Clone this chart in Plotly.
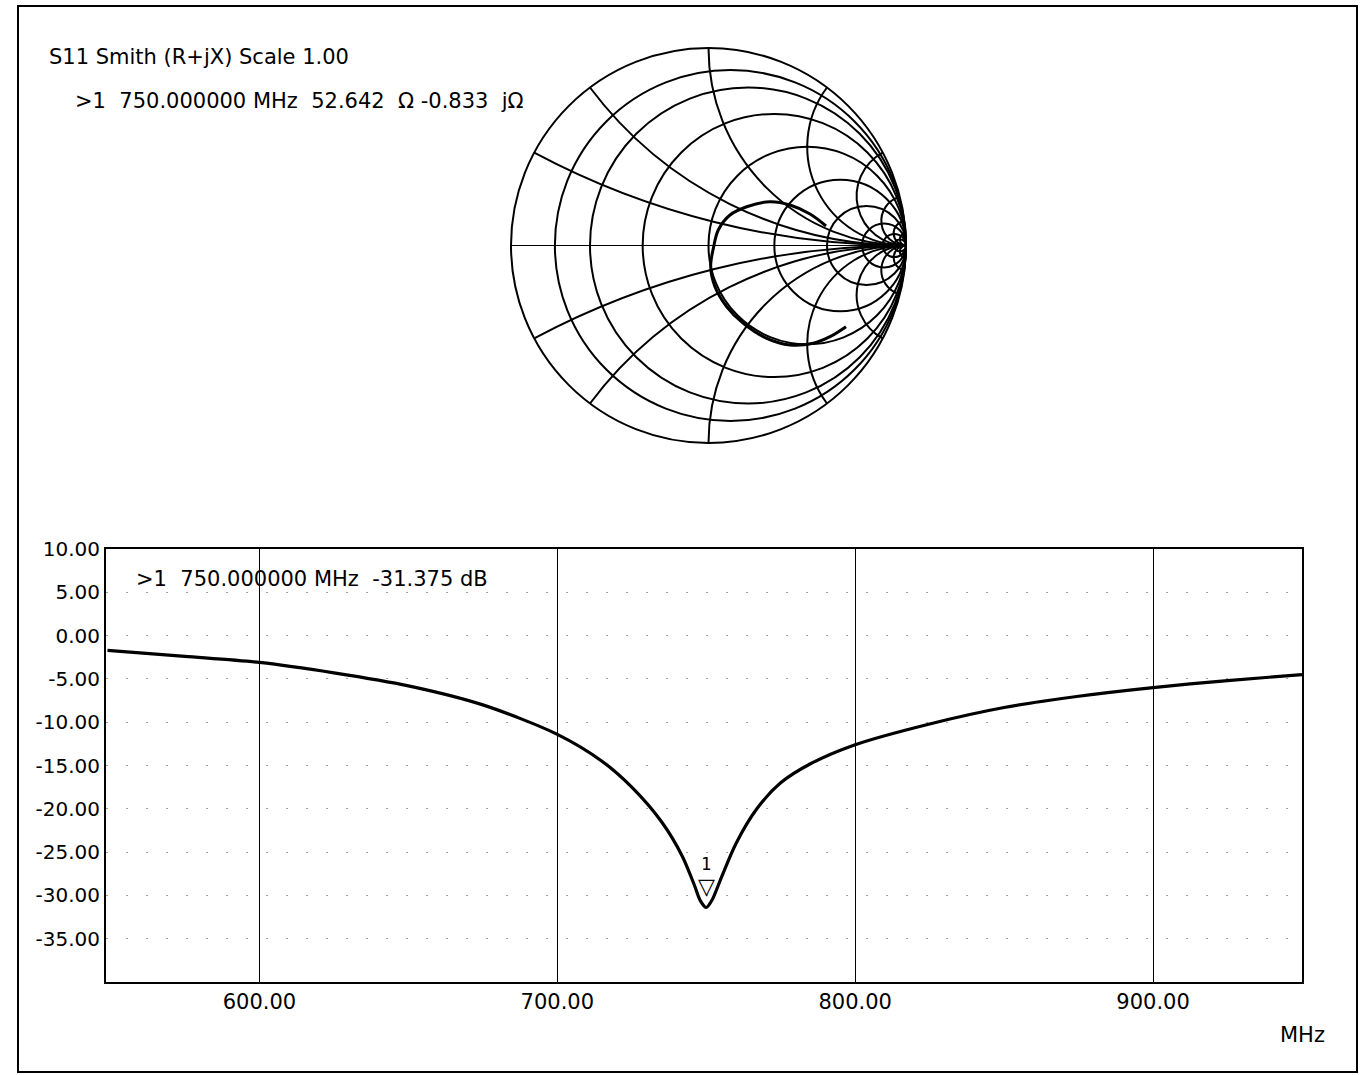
import plotly.graph_objects as go

W, H = 1367, 1075

# ---------------- data ----------------
# S11 return loss (log magnitude) vs frequency
freq_mhz = [549, 575, 600, 625, 650, 675, 700, 715, 725, 735, 742, 746, 748,
            750, 752, 755, 760, 767, 775, 785, 800, 825, 850, 875, 900, 925, 950]
s11_db = [-1.7, -2.4, -3.1, -4.3, -5.8, -8.0, -11.4, -14.5, -17.5, -21.5, -25.5,
          -28.8, -30.6, -31.4, -30.5, -28.0, -24.0, -20.0, -17.0, -14.8, -12.6,
          -10.2, -8.3, -7.0, -6.0, -5.2, -4.5]

# S11 on the Smith chart: normalised impedance (R + jX) / 50 ohm
smith_r = [1.325, 1.130, 1.017, 0.962, 0.964, 0.976, 0.973, 0.976, 0.999, 1.053,
           1.090, 1.179, 1.341, 1.631, 2.035, 2.715, 3.662]
smith_x = [-3.147, -2.556, -2.128, -1.683, -1.309, -0.945, -0.674, -0.426, -0.217,
           -0.017, 0.173, 0.378, 0.570, 0.848, 1.060, 1.219, 1.136]

# Smith grid values
r_grid = [0.125, 0.25, 0.5, 1, 2, 4, 8, 16, 32]
x_grid = [-32, -16, -8, -4, -2, -1, -0.5, -0.25, 0.25, 0.5, 1, 2, 4, 8, 16, 32]

# Log-mag axis ticks
x_ticks = [600, 700, 800, 900]
x_ticktext = ["600.00", "700.00", "800.00", "900.00"]
y_ticks = [10, 5, 0, -5, -10, -15, -20, -25, -30, -35]
y_ticktext = ["10.00", "5.00", "0.00", "-5.00", "-10.00", "-15.00", "-20.00",
              "-25.00", "-30.00", "-35.00"]

marker_freq = 750
marker_db = -31.375

FONT = "DejaVu Sans"
FS = 21

fig = go.Figure()

fig.add_trace(go.Scattersmith(
    real=smith_r, imag=smith_x, mode="lines",
    line=dict(color="black", width=3, shape="spline"),
    showlegend=False, hoverinfo="skip",
))

fig.add_trace(go.Scatter(
    x=freq_mhz, y=s11_db, mode="lines",
    line=dict(color="black", width=3.2, shape="spline", smoothing=0.8),
    showlegend=False, hoverinfo="skip",
))

# smith chart placement (pixels)
sc_cx, sc_cy, sc_half = 708.5, 245.5, 197.5

fig.update_layout(
    width=W, height=H,
    margin=dict(l=0, r=0, t=0, b=0, autoexpand=False),
    paper_bgcolor="white", plot_bgcolor="white",
    font=dict(family=FONT, size=FS, color="black"),
    smith=dict(
        domain=dict(x=[(sc_cx - sc_half) / W, (sc_cx + sc_half) / W],
                    y=[1 - (sc_cy + sc_half) / H, 1 - (sc_cy - sc_half) / H]),
        bgcolor="white",
        realaxis=dict(tickvals=r_grid, showticklabels=False, ticks="",
                      showgrid=True, gridcolor="black", gridwidth=2,
                      showline=True, linecolor="black", linewidth=1),
        imaginaryaxis=dict(tickvals=x_grid, showticklabels=False, ticks="",
                           showgrid=True, gridcolor="black", gridwidth=2,
                           showline=True, linecolor="black", linewidth=2),
    ),
    xaxis=dict(
        domain=[106 / W, 1302 / W], range=[548.5, 950],
        tickmode="array", tickvals=x_ticks, ticktext=x_ticktext,
        showgrid=True, gridcolor="black", gridwidth=1,
        showline=True, linecolor="black", linewidth=2, mirror=True,
        ticks="", zeroline=False, tickfont=dict(family=FONT, size=FS),
    ),
    yaxis=dict(
        domain=[1 - 982 / H, 1 - 549 / H], range=[-40, 10],
        tickmode="array", tickvals=y_ticks, ticktext=y_ticktext,
        showgrid=True, gridcolor="#a0a0a0", gridwidth=1, griddash="2px,18px",
        showline=True, linecolor="black", linewidth=2, mirror=True,
        ticks="", zeroline=False, tickfont=dict(family=FONT, size=20),
    ),
    shapes=[dict(type="rect", xref="paper", yref="paper",
                 x0=18 / W, x1=1357 / W, y0=1 - 1072 / H, y1=1 - 6 / H,
                 line=dict(color="black", width=2))],
)

ann = [
    dict(text="S11 Smith (R+jX) Scale 1.00", x=47 / W, y=1 - 57 / H),
    dict(text=">1  750.000000 MHz  52.642  \u03a9 -0.833  j\u03a9", x=73 / W, y=1 - 101 / H),
    dict(text=">1  750.000000 MHz  -31.375 dB", x=134 / W, y=1 - 579 / H),
    dict(text="MHz", x=1278 / W, y=1 - 1035 / H),
]
for a in ann:
    fig.add_annotation(xref="paper", yref="paper", xanchor="left", yanchor="middle",
                       showarrow=False, font=dict(family=FONT, size=FS, color="black"), **a)

fig.add_annotation(x=marker_freq, y=marker_db, xref="x", yref="y", text="\u25bd",
                   showarrow=False, yanchor="bottom", yshift=6,
                   font=dict(family=FONT, size=22, color="black"))
fig.add_annotation(x=marker_freq, y=marker_db, xref="x", yref="y", text="1",
                   showarrow=False, yanchor="bottom", yshift=31,
                   font=dict(family="DejaVu Sans Mono", size=17, color="black"))

fig.write_html("out.html", config={"displayModeBar": False},
               post_script="document.body.style.margin='0';document.body.style.overflow='hidden';")
